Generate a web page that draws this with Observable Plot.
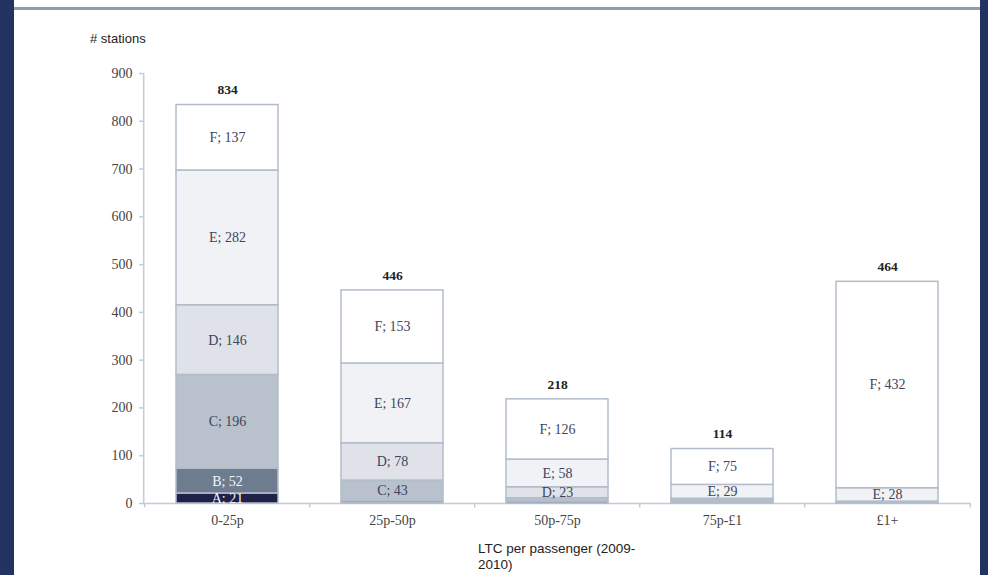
<!DOCTYPE html>
<html>
<head>
<meta charset="utf-8">
<script src="https://cdn.jsdelivr.net/npm/d3@7"></script>
<script src="https://cdn.jsdelivr.net/npm/@observablehq/plot@0.6"></script>
<style>
  html, body { margin: 0; padding: 0; }
  body { width: 988px; height: 575px; background: #23335f; position: relative; overflow: hidden; }
  #panel { position: absolute; left: 14px; top: 0; width: 966px; height: 575px; background: #ffffff; }
  #topline { position: absolute; left: 14px; top: 7px; width: 966px; height: 3px; background: #8c9cb2; }
  #ylabel { position: absolute; left: 90px; top: 31px; font: 13px "Liberation Sans", Arial, sans-serif; color: #222; }
  #chart { position: absolute; left: 0; top: 0; }
  #xlabel { position: absolute; left: 478px; top: 541px; font: 13.5px/16px "Liberation Sans", Arial, sans-serif; color: #222; }
</style>
</head>
<body>
<div id="panel"></div>
<div id="topline"></div>
<div id="ylabel"># stations</div>
<div id="chart"></div>
<div id="xlabel">LTC per passenger (2009-<br>2010)</div>
<script>
const categories = ["0-25p", "25p-50p", "50p-75p", "75p-£1", "£1+"];
const grades = ["A", "B", "C", "D", "E", "F"];
const gradeA = [21, 1, 0, 0, 0];
const gradeB = [52, 4, 4, 2, 1];
const gradeC = [196, 43, 7, 5, 2];
const gradeD = [146, 78, 23, 3, 1];
const gradeE = [282, 167, 58, 29, 28];
const gradeF = [137, 153, 126, 75, 432];
const yTicks = [0, 100, 200, 300, 400, 500, 600, 700, 800, 900];
const gradeColors = ["#1f2148", "#6e7c90", "#b8c1cc", "#dfe3e9", "#f1f2f5", "#ffffff"];

const series = [gradeA, gradeB, gradeC, gradeD, gradeE, gradeF];
const data = [];
categories.forEach((cat, i) => {
  grades.forEach((g, j) => {
    const v = series[j][i];
    if (v > 0) data.push({cat, grade: g, value: v});
  });
});

const W = 988, H = 540, ML = 143, MR = 17, MT = 73, MB = 37;
const step = (W - ML - MR) / categories.length;
const serif = "'Liberation Serif', 'Times New Roman', serif";
const lineColor = "#c3cbd5";
const barStroke = "#b3bdca";
const labelColor = "#3e445b";
const darkGrades = new Set(["A", "B"]);

const chart = Plot.plot({
  width: W, height: H,
  marginLeft: ML, marginRight: MR, marginTop: MT, marginBottom: MB,
  style: {background: "transparent", fontFamily: serif},
  x: {domain: categories, paddingInner: 0.38, paddingOuter: 0.19, axis: null, label: null},
  y: {domain: [0, 900], axis: null, label: null},
  color: {domain: grades, range: gradeColors},
  marks: [
    // y-axis line
    Plot.ruleX([categories[0]], {x: d => d, dx: -step / 2 - 1, y1: 0, y2: 900, stroke: lineColor, strokeWidth: 1.5}),
    // y ticks
    Plot.axisY({ticks: yTicks, tickSize: 4, tickFormat: () => "", label: null, stroke: lineColor, strokeWidth: 1.5}),
    // y tick labels
    Plot.axisY({ticks: yTicks, tickSize: 0, tickPadding: 11, tickFormat: d => String(d), label: null, fill: "#444", fontSize: 14, fontFamily: serif}),
    // x baseline
    Plot.ruleY([0], {stroke: lineColor, strokeWidth: 1.5}),
    // boundary ticks
    Plot.ruleX(categories, {x: d => d, dx: -step / 2, y1: 0, y2: -9, stroke: lineColor, strokeWidth: 1.5}),
    Plot.ruleX([categories[categories.length - 1]], {x: d => d, dx: step / 2, y1: 0, y2: -9, stroke: lineColor, strokeWidth: 1.5}),
    // x labels
    Plot.axisX({tickSize: 0, tickPadding: 12, label: null, fill: "#444", fontSize: 14, fontFamily: serif}),
    // bars
    Plot.barY(data, {x: "cat", y: "value", fill: "grade", order: grades, stroke: barStroke, strokeWidth: 1.5}),
    // segment labels (light text on dark segments)
    Plot.text(data, Plot.stackY({
      x: "cat", y: "value", z: "grade", order: grades,
      text: d => (d.value >= 20 && darkGrades.has(d.grade)) ? `${d.grade}; ${d.value}` : null,
      fill: "#f4f5f8", fontSize: 14, fontFamily: serif
    })),
    // segment labels (dark text on light segments)
    Plot.text(data, Plot.stackY({
      x: "cat", y: "value", z: "grade", order: grades,
      text: d => (d.value >= 20 && !darkGrades.has(d.grade)) ? `${d.grade}; ${d.value}` : null,
      fill: labelColor, fontSize: 14, fontFamily: serif
    })),
    // totals
    Plot.text(data, Plot.groupX({y: "sum", text: "sum"}, {
      x: "cat", y: "value", text: "value", dy: -15, fontWeight: "bold", fill: "#222", fontSize: 13.5, fontFamily: serif
    }))
  ]
});
document.getElementById("chart").appendChild(chart);
</script>
</body>
</html>
